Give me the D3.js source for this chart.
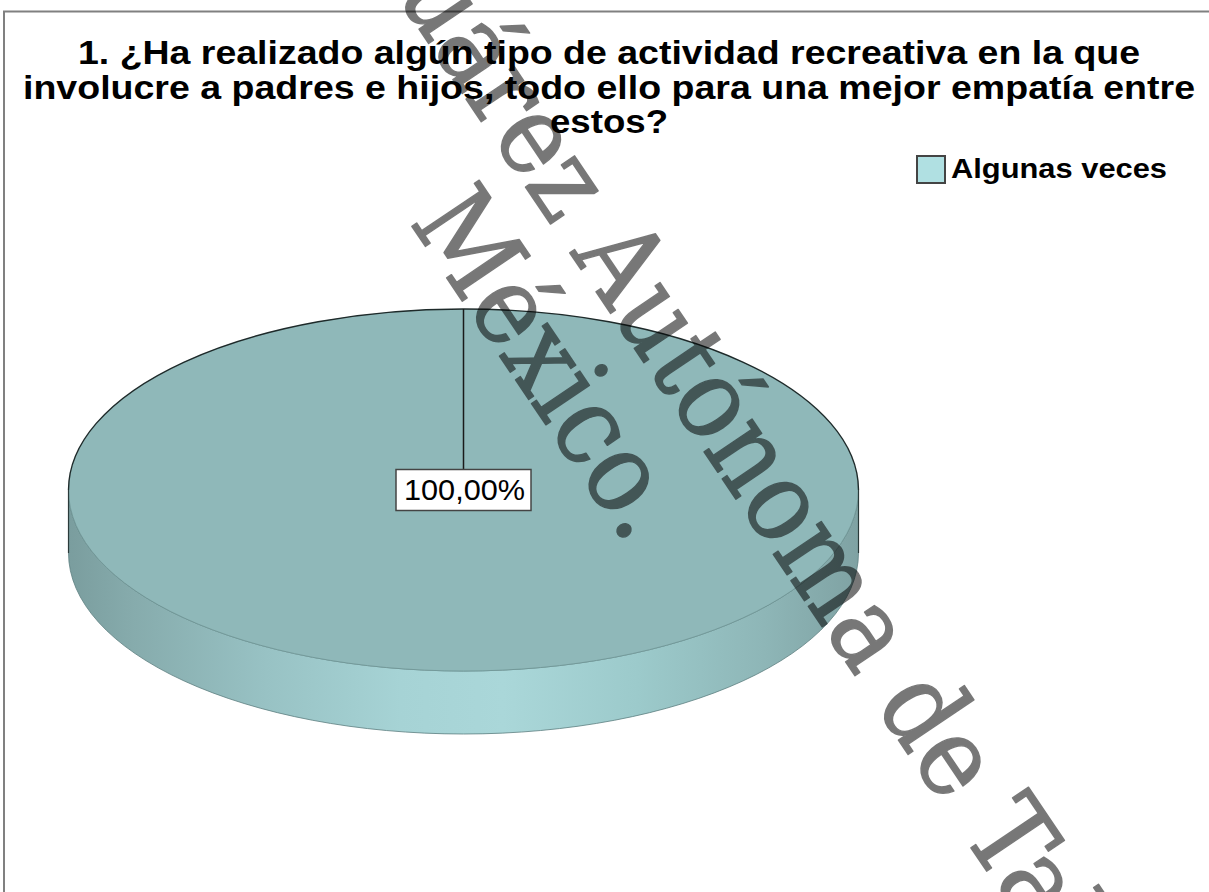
<!DOCTYPE html>
<html>
<head>
<meta charset="utf-8">
<script src="https://cdn.jsdelivr.net/npm/d3@7"></script>
<style>
  body { margin: 0; background: #fff; }
  .wm { font-family: "DejaVu Serif", "Liberation Serif", serif; }
</style>
</head>
<body>
<div id="chart"></div>
<script>
// data
var categories = ["Algunas veces"];
var values = [100];
var labels = ["100,00%"];
var titleLines = [
  "1. ¿Ha realizado algún tipo de actividad recreativa en la que",
  "involucre a padres e hijos, todo ello para una mejor empatía entre",
  "estos?"
];
var watermarkLines = ["Universidad Juárez Autónoma de Tabasco.", "México."];

var width = 1209, height = 892;
var cx = 463.5, cy = 490, rx = 395, ry = 181, depth = 63;

var svg = d3.select("#chart").append("svg")
    .attr("width", width)
    .attr("height", height);

// outer frame (right and bottom edges fall outside the picture)
svg.append("rect")
    .attr("x", 4).attr("y", 11.5)
    .attr("width", 1300).attr("height", 1000)
    .attr("fill", "none")
    .attr("stroke", "#808080")
    .attr("stroke-width", 2);

// title
var titleWidths = [1062, 1172, 118];
svg.append("g").selectAll("text")
    .data(titleLines)
  .enter().append("text")
    .attr("x", 609)
    .attr("y", function(d, i) { return 64 + i * 34.5; })
    .attr("text-anchor", "middle")
    .attr("textLength", function(d, i) { return titleWidths[i]; })
    .attr("lengthAdjust", "spacingAndGlyphs")
    .style("font-family", "'Liberation Sans', Arial, sans-serif")
    .style("font-weight", "bold")
    .style("font-size", "33px")
    .text(function(d) { return d; });

// pie
var color = d3.scaleOrdinal().domain(categories).range(["#b0e0e2"]);
var topColor = d3.scaleOrdinal().domain(categories).range(["#8fb8b9"]);
var slices = d3.pie().sort(null).value(function(d) { return d; })(values);

function ept(a, dy) {
  return [cx + rx * Math.sin(a), cy - ry * Math.cos(a) + (dy || 0)];
}

var defs = svg.append("defs");
var grad = defs.append("linearGradient")
    .attr("id", "sideGrad")
    .attr("gradientUnits", "userSpaceOnUse")
    .attr("x1", cx - rx).attr("x2", cx + rx)
    .attr("y1", 0).attr("y2", 0);
[[0, "#7a9d9e"], [0.08, "#86abac"], [0.25, "#98c2c4"], [0.42, "#a6d3d5"],
 [0.55, "#aad7d9"], [0.72, "#9ccacb"], [0.88, "#8eb6b7"], [1, "#7fa2a3"]]
  .forEach(function(s) {
    grad.append("stop").attr("offset", s[0]).attr("stop-color", s[1]);
  });

// visible side (front half) of every slice
var side = svg.append("g");
slices.forEach(function(s) {
  var a0 = Math.max(s.startAngle, Math.PI / 2),
      a1 = Math.min(s.endAngle, 3 * Math.PI / 2);
  if (a1 <= a0) return;
  var p0 = ept(a0), p1 = ept(a1), q0 = ept(a0, depth), q1 = ept(a1, depth);
  var path = "M" + p0 + "L" + q0 +
      "A" + rx + "," + ry + " 0 0 1 " + q1 +
      "L" + p1 +
      "A" + rx + "," + ry + " 0 0 0 " + p0 + "Z";
  side.append("path")
      .attr("d", path)
      .attr("fill", "url(#sideGrad)")
      .attr("stroke", "#5d7f80")
      .attr("stroke-width", 0.8);
});

// top face
var arc = d3.arc().innerRadius(0).outerRadius(rx);
svg.append("g")
    .attr("transform", "translate(" + cx + "," + cy + ") scale(1," + (ry / rx) + ")")
  .selectAll("path")
    .data(slices)
  .enter().append("path")
    .attr("d", arc)
    .attr("fill", function(d, i) { return topColor(categories[i]); })
    .attr("stroke", "none");

// rim lines: dark back edge, light front edge
var l = ept(3 * Math.PI / 2), r = ept(Math.PI / 2);
svg.append("path")
    .attr("d", "M" + l + "A" + rx + "," + ry + " 0 0 1 " + r)
    .attr("fill", "none").attr("stroke", "#1e2a2a").attr("stroke-width", 1.4);
svg.append("path")
    .attr("d", "M" + r + "A" + rx + "," + ry + " 0 0 1 " + l)
    .attr("fill", "none").attr("stroke", "#6f9596").attr("stroke-width", 0.8);
svg.append("line")
    .attr("x1", l[0]).attr("y1", l[1]).attr("x2", l[0]).attr("y2", l[1] + depth)
    .attr("stroke", "#2a3a3a").attr("stroke-width", 1.2);
svg.append("line")
    .attr("x1", r[0]).attr("y1", r[1]).attr("x2", r[0]).attr("y2", r[1] + depth)
    .attr("stroke", "#2a3a3a").attr("stroke-width", 1.2);

// data label with leader line from the slice start
var boxW = 135, boxH = 41;
slices.forEach(function(s, i) {
  var start = ept(s.startAngle);
  svg.append("line")
      .attr("x1", start[0]).attr("y1", start[1])
      .attr("x2", cx).attr("y2", cy - boxH / 2)
      .attr("stroke", "#1a1a1a").attr("stroke-width", 1.5);
  svg.append("rect")
      .attr("x", cx - boxW / 2).attr("y", cy - boxH / 2)
      .attr("width", boxW).attr("height", boxH)
      .attr("fill", "#fff")
      .attr("stroke", "#444").attr("stroke-width", 1.5);
  svg.append("text")
      .attr("x", cx + 1).attr("y", cy + 10)
      .attr("text-anchor", "middle")
      .attr("textLength", 121)
      .attr("lengthAdjust", "spacingAndGlyphs")
      .style("font-family", "'Liberation Sans', Arial, sans-serif")
      .style("font-size", "30px")
      .text(labels[i]);
});

// legend
var legend = svg.append("g").selectAll("g")
    .data(categories)
  .enter().append("g")
    .attr("transform", function(d, i) { return "translate(917," + (156 + i * 34) + ")"; });
legend.append("rect")
    .attr("width", 28).attr("height", 27)
    .attr("fill", color)
    .attr("stroke", "#444").attr("stroke-width", 2);
legend.append("text")
    .attr("x", 34).attr("y", 22)
    .attr("textLength", 216)
    .attr("lengthAdjust", "spacingAndGlyphs")
    .style("font-family", "'Liberation Sans', Arial, sans-serif")
    .style("font-weight", "bold")
    .style("font-size", "28px")
    .text(function(d) { return d; });

// diagonal watermark (group opacity so fill + stroke blend once)
var wmWidths = [2130, 392];
var wm = svg.append("g")
    .attr("opacity", 0.53)
    .attr("transform", "translate(609,311) rotate(56)");
wm.selectAll("text")
    .data(watermarkLines)
  .enter().append("text")
    .attr("class", "wm")
    .attr("x", function(d, i) { return i * 10; })
    .attr("y", function(d, i) { return i * 116; })
    .attr("text-anchor", "middle")
    .attr("textLength", function(d, i) { return wmWidths[i]; })
    .attr("lengthAdjust", "spacingAndGlyphs")
    .attr("font-size", 112)
    .attr("fill", "#000")
    .attr("stroke", "#000")
    .attr("stroke-width", 1.5)
    .attr("stroke-linejoin", "round")
    .text(function(d) { return d; });
</script>
</body>
</html>
